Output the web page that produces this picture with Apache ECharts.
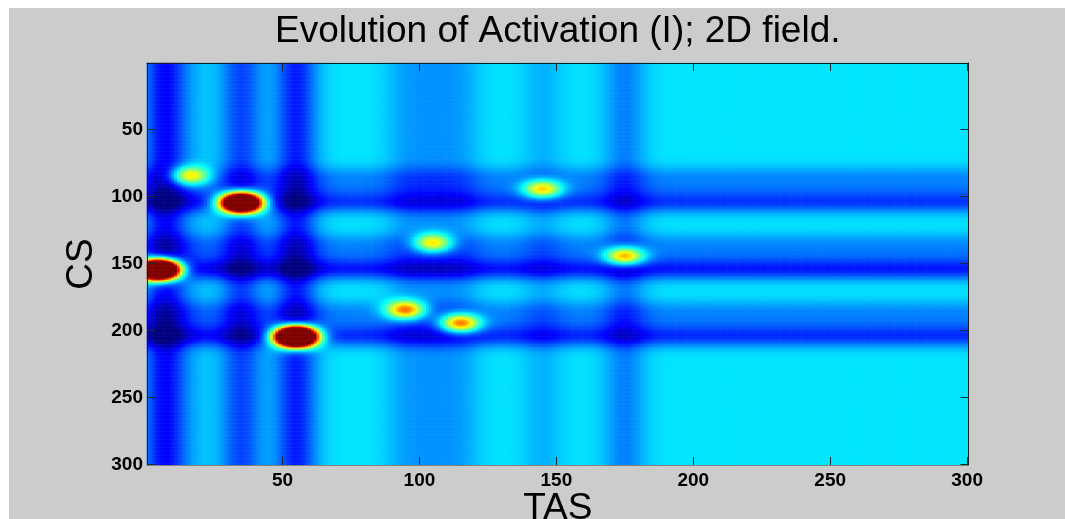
<!DOCTYPE html>
<html>
<head>
<meta charset="utf-8">
<title>Evolution of Activation (I); 2D field.</title>
<script src="https://cdn.jsdelivr.net/npm/echarts@6/dist/echarts.min.js"></script>
<style>
  html, body { margin: 0; padding: 0; background: #ffffff; }
  #chart { width: 1065px; height: 519px; }
</style>
</head>
<body>
<div id="chart"></div>
<script>
// ---- field grid (TAS columns x CS rows) ----
const nTAS = 300;
const nCS = 300;
const tasCategories = Array.from({ length: nTAS }, (_, i) => String(i + 1));
const csCategories = Array.from({ length: nCS }, (_, i) => String(i + 1));
const tickLabels = ['50', '100', '150', '200', '250', '300'];

// ---- activation peaks (centre TAS, centre CS, amplitude) ----
const peakTAS = [16, 35, 5, 55, 105, 95, 115, 145, 175];
const peakCS  = [85, 105, 155, 205, 135, 185, 195, 95, 145];
const peakAmp = [0.46, 2.0, 2.4, 2.5, 0.47, 0.58, 0.6, 0.49, 0.57];
const peakWidth = 5;

// ---- inhibition bands running down TAS columns and across CS rows ----
const colTAS   = [7, 17, 35, 55, 95, 105, 115, 145, 175];
const colDepth = [0.22, 0.03, 0.16, 0.2, 0.06, 0.06, 0.06, 0.05, 0.1];
const rowCS    = [85, 95, 105, 135, 145, 155, 185, 195, 205];
const rowDepth = [0.075, 0.075, 0.16, 0.075, 0.075, 0.19, 0.075, 0.075, 0.17];
const bandWidth = 5.5;

const restingLevel = 0.35;
const colorLimits = [0, 1];

// MATLAB "jet" colour map, 9 evenly spaced stops
const jet = ['#000080', '#0000ff', '#0080ff', '#00ffff', '#80ff80',
             '#ffff00', '#ff8000', '#ff0000', '#800000'];

function gauss(d, s) { return Math.exp(-(d * d) / (2 * s * s)); }

const colProfile = tasCategories.map((_, i) =>
  colTAS.reduce((acc, c, k) => acc + colDepth[k] * gauss(i + 1 - c, bandWidth), 0));
const rowProfile = csCategories.map((_, j) =>
  rowCS.reduce((acc, r, k) => acc + rowDepth[k] * gauss(j + 1 - r, bandWidth), 0));

const fieldData = [];
for (let j = 0; j < nCS; j++) {
  for (let i = 0; i < nTAS; i++) {
    const x = i + 1, y = j + 1;
    let u = restingLevel - colProfile[i] - rowProfile[j];
    for (let k = 0; k < peakTAS.length; k++) {
      const dx = x - peakTAS[k], dy = y - peakCS[k];
      u += peakAmp[k] * Math.exp(-(dx * dx + dy * dy) / (2 * peakWidth * peakWidth));
    }
    u = Math.min(colorLimits[1], Math.max(colorLimits[0], u));
    fieldData.push([i, j, u]);
  }
}

const showTick = (index, value) => tickLabels.indexOf(value) !== -1;
const tickStyle = { show: true, inside: true, length: 8, interval: showTick,
                    alignWithLabel: true, lineStyle: { color: '#1c2a2e', width: 1 } };
const labelFont = { fontFamily: 'Liberation Sans', fontWeight: 'bold', fontSize: 19, color: '#000000' };
const nameFont = { fontFamily: 'Liberation Sans', fontWeight: 'normal', fontSize: 37, color: '#000000' };

const chart = echarts.init(document.getElementById('chart'), null, { renderer: 'canvas' });
chart.setOption({
  animation: false,
  backgroundColor: '#ffffff',
  graphic: [
    { type: 'rect', silent: true, z: -10,
      shape: { x: 9, y: 8, width: 1056, height: 511 },
      style: { fill: '#cccccc' } },
    { type: 'text', silent: true, z: 10, x: 557.75, y: 31.5,
      style: { text: 'Evolution of Activation (I); 2D field.',
               font: 'normal 37px "Liberation Sans", Arial, sans-serif',
               fill: '#000000', align: 'center', verticalAlign: 'middle' } }
  ],
  grid: { left: 147, right: 96.5, top: 63, bottom: 54, containLabel: false, outerBoundsMode: 'none' },
  tooltip: { show: false },
  xAxis: [
    { type: 'category', data: tasCategories, position: 'bottom', z: 5,
      axisLine: { show: true, lineStyle: { color: '#808080', width: 1 } },
      axisTick: tickStyle,
      axisLabel: Object.assign({ interval: showTick, margin: 6 }, labelFont),
      splitLine: { show: false },
      name: 'TAS', nameLocation: 'middle', nameGap: 25, nameMoveOverlap: false,
      nameTextStyle: nameFont },
    { type: 'category', data: tasCategories, position: 'top', z: 5,
      axisLine: { show: true, lineStyle: { color: '#1a1a1a', width: 1 } },
      axisTick: tickStyle,
      axisLabel: { show: false }, splitLine: { show: false } }
  ],
  yAxis: [
    { type: 'category', data: csCategories, inverse: true, position: 'left', z: 5,
      axisLine: { show: true, lineStyle: { color: '#1a1a1a', width: 1 } },
      axisTick: tickStyle,
      axisLabel: Object.assign({ interval: showTick, margin: 4 }, labelFont),
      splitLine: { show: false },
      name: 'CS', nameLocation: 'middle', nameGap: 46, nameTextStyle: nameFont },
    { type: 'category', data: csCategories, inverse: true, position: 'right', z: 5,
      axisLine: { show: true, lineStyle: { color: '#1a1a1a', width: 1 } },
      axisTick: tickStyle,
      axisLabel: { show: false }, splitLine: { show: false } }
  ],
  visualMap: {
    type: 'continuous', show: false, seriesIndex: 0, dimension: 2,
    min: colorLimits[0], max: colorLimits[1],
    inRange: { color: jet }
  },
  series: [{
    type: 'heatmap', xAxisIndex: 0, yAxisIndex: 0,
    data: fieldData,
    progressive: 0,
    itemStyle: { borderWidth: 0 },
    emphasis: { disabled: true }
  }]
});
</script>
</body>
</html>
